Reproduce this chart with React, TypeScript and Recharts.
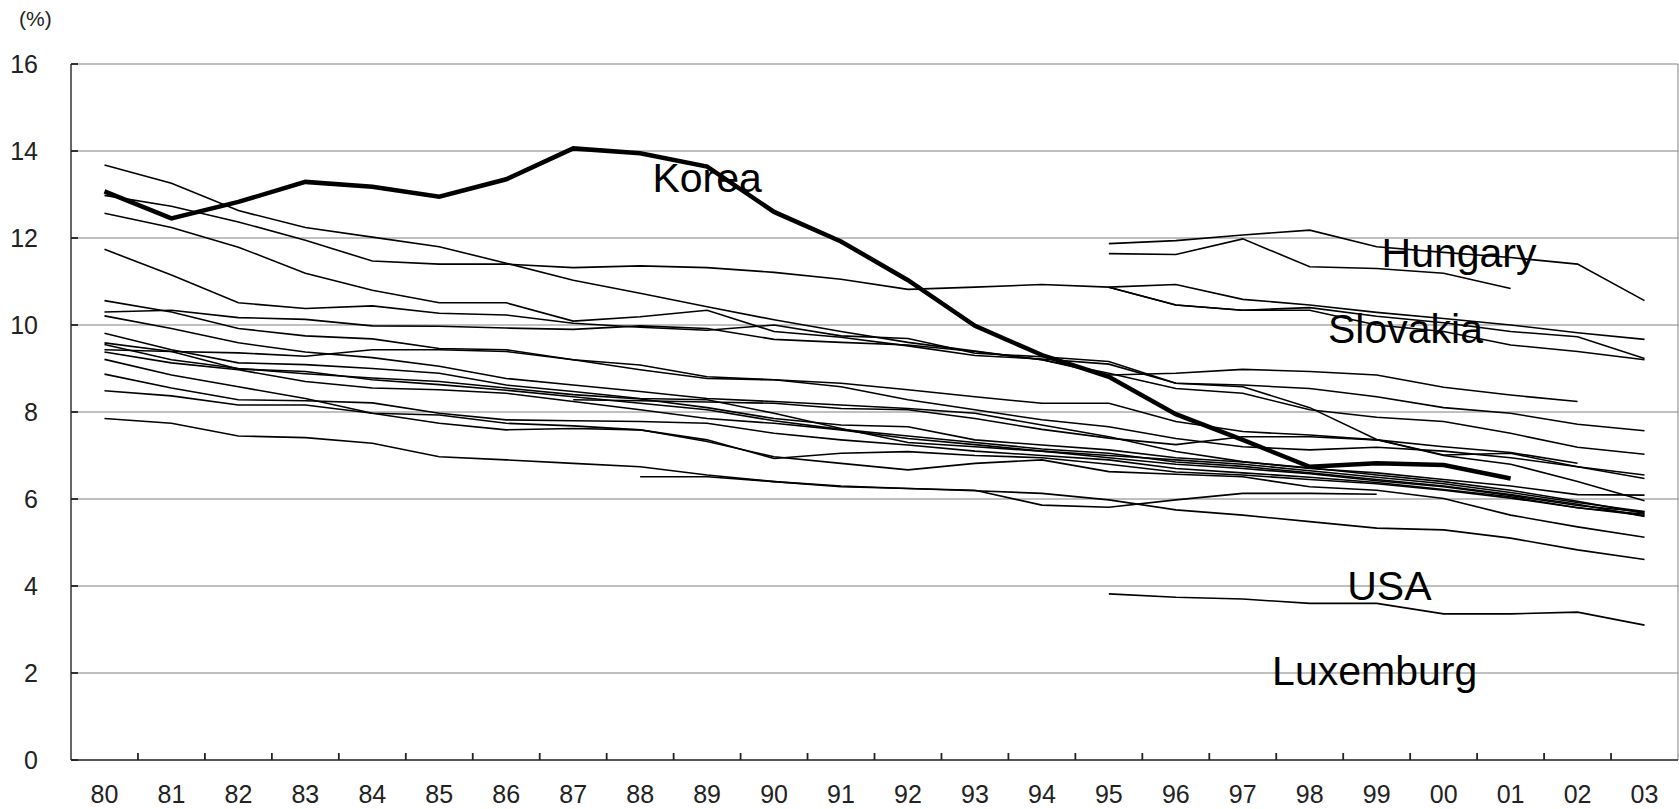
import { CartesianGrid, ComposedChart, Line, ReferenceDot, ReferenceLine, Scatter, XAxis, YAxis } from 'recharts';

const years = ['80', '81', '82', '83', '84', '85', '86', '87', '88', '89', '90', '91', '92', '93', '94', '95', '96', '97', '98', '99', '00', '01', '02', '03'];
const yTicks = [0, 2, 4, 6, 8, 10, 12, 14, 16];

const none = (n: number) => Array(n).fill(null);

// values, one list per country line
const korea = [13.07, 12.45, 12.83, 13.29, 13.18, 12.95, 13.35, 14.06, 13.95, 13.64, 12.6, 11.92, 11.03, 9.98, 9.31, 8.81, 7.95, 7.36, 6.74, 6.82, 6.78, 6.47, null, null];
const lineA = [13.68, 13.26, 12.63, 12.24, 12.02, 11.8, 11.42, 11.03, 10.73, 10.42, 10.12, 9.85, 9.6, 9.4, 9.2, 8.85, 8.89, 8.98, 8.93, 8.85, 8.57, 8.39, 8.24, null];
const lineB = [12.98, 12.73, 12.37, 11.95, 11.47, 11.4, 11.4, 11.32, 11.36, 11.32, 11.21, 11.05, 10.82, 10.87, 10.93, 10.87, 10.93, 10.59, 10.46, 10.29, 10.15, 10.0, 9.82, 9.67];
const lineD = [12.57, 12.24, 11.79, 11.19, 10.8, 10.51, 10.51, 10.09, 10.19, 10.34, 9.85, 9.72, 9.52, 9.3, 9.22, 9.1, 8.66, 8.62, 8.54, 8.35, 8.1, 7.97, 7.72, 7.57];
const lineC = [11.74, 11.15, 10.51, 10.38, 10.44, 10.27, 10.23, 10.04, 9.95, 9.88, 10.0, 9.75, 9.69, 9.35, 9.27, 9.16, 8.66, 8.58, 8.1, 7.37, 7.01, 7.05, 6.74, 6.47];
const line7 = [10.3, 10.34, 10.17, 10.13, 9.98, 9.97, 9.93, 9.9, 9.98, 9.92, 9.67, 9.6, 9.54, 9.39, 9.2, 8.89, 8.54, 8.43, 8.05, 7.88, 7.78, 7.51, 7.19, 7.03];
const line6 = [10.56, 10.3, 9.92, 9.75, 9.68, 9.46, 9.43, 9.2, 9.08, 8.81, 8.74, 8.66, 8.51, 8.35, 8.2, 8.2, 7.78, 7.55, 7.47, 7.36, 7.2, 7.07, 6.82, null];
const line12 = [9.43, 9.39, 9.36, 9.28, 9.43, 9.43, 9.39, 9.2, 8.97, 8.77, 8.74, 8.58, 8.28, 8.05, 7.82, 7.66, 7.39, 7.2, 7.13, 7.19, 7.1, 6.95, 6.74, 6.55];
const line8 = [10.21, 9.92, 9.59, 9.38, 9.25, 9.05, 8.77, 8.62, 8.47, 8.31, 8.24, 8.16, 8.08, 7.97, 7.7, 7.43, 7.09, 6.86, 6.7, 6.6, 6.45, 6.3, 6.1, 6.09];
const line87 = [...none(7), 8.28, 8.26, 8.23, 8.2, 8.08, 8.05, 7.85, 7.6, 7.4, 7.25, 7.43, 7.43, 7.36, 7.0, 6.8, 6.4, 5.96];
const line9 = [9.81, 9.43, 9.13, 9.09, 9.0, 8.89, 8.62, 8.47, 8.31, 8.28, 7.97, 7.62, 7.3, 7.2, 7.1, 7.0, 6.9, 6.8, 6.65, 6.5, 6.35, 6.15, 5.92, 5.71];
const line11 = [9.55, 9.2, 9.0, 8.88, 8.78, 8.7, 8.55, 8.4, 8.3, 8.1, 7.85, 7.7, 7.66, 7.36, 7.24, 7.13, 6.95, 6.85, 6.72, 6.55, 6.4, 6.2, 5.95, 5.67];
const line10 = [9.59, 9.39, 8.99, 8.93, 8.74, 8.63, 8.5, 8.35, 8.2, 8.05, 7.8, 7.6, 7.45, 7.3, 7.15, 7.05, 6.85, 6.75, 6.6, 6.45, 6.3, 6.1, 5.88, 5.6];
const line13 = [9.38, 9.13, 8.97, 8.7, 8.55, 8.51, 8.43, 8.24, 8.05, 7.85, 7.74, 7.59, 7.39, 7.25, 7.1, 6.95, 6.8, 6.7, 6.58, 6.42, 6.28, 6.08, 5.85, 5.7];
const line15 = [8.87, 8.55, 8.28, 8.26, 8.21, 7.97, 7.82, 7.8, 7.78, 7.74, 7.51, 7.36, 7.24, 7.1, 7.0, 6.9, 6.7, 6.6, 6.5, 6.38, 6.22, 6.05, 5.8, 5.65];
const line16 = [8.49, 8.37, 8.16, 8.16, 7.97, 7.93, 7.74, 7.68, 7.59, 7.32, 6.97, 6.82, 6.67, 6.82, 6.9, 6.63, 6.57, 6.51, 6.28, 6.2, 6.01, 5.63, 5.36, 5.12];
const line14 = [9.21, 8.85, 8.58, 8.31, 7.97, 7.74, 7.59, 7.62, 7.59, 7.36, 6.93, 7.05, 7.09, 7.0, 6.95, 6.8, 6.62, 6.55, 6.45, 6.35, 6.2, 6.02, 5.8, 5.62];
const line17 = [7.85, 7.74, 7.45, 7.41, 7.28, 6.97, 6.9, 6.82, 6.74, 6.55, 6.4, 6.28, 6.24, 6.19, 6.13, 5.98, 5.75, 5.63, 5.48, 5.33, 5.29, 5.1, 4.83, 4.61];
const line88 = [...none(8), 6.51, 6.51, 6.4, 6.3, 6.24, 6.2, 5.86, 5.81, 5.98, 6.13, 6.13, 6.11, null, null, null, null];
const hungary1 = [...none(15), 11.87, 11.94, 12.07, 12.18, 11.8, 11.67, 11.55, 11.4, 10.56];
const hungary2 = [...none(15), 11.64, 11.62, 11.98, 11.34, 11.3, 11.19, 10.84, null, null];
const slovak1 = [...none(15), 10.87, 10.46, 10.34, 10.4, 10.2, 10.05, 9.85, 9.73, 9.23];
const slovak2 = [...none(15), 10.87, 10.46, 10.34, 10.34, 10.0, 9.85, 9.54, 9.39, 9.2];
const usa = [...none(15), 3.82, 3.74, 3.7, 3.6, 3.6, 3.36, 3.36, 3.4, 3.1];

const thin: Record<string, (number | null)[]> = {
  lineA, lineB, lineD, lineC, line7, line6, line12, line8, line87, line9, line11,
  line10, line13, line15, line16, line14, line17, line88, hungary1, hungary2, slovak1, slovak2, usa,
};

const data = years.map((_, i) => {
  const row: Record<string, number | null> = { x: i, korea: korea[i] };
  Object.keys(thin).forEach((k) => {
    row[k] = thin[k][i];
  });
  return row;
});

// tick mark anchors: between the years on the x axis, at each grid value on the y axis
const xMarks = years.slice(1).map((_, i) => ({ x: i + 0.5, y: 0 }));
const yMarks = yTicks.map((t) => ({ x: -0.5, y: t }));

const FONT = '"Liberation Sans", Arial, sans-serif';
const names = [
  { text: 'Korea', x: 9.0, y: 13.39 },
  { text: 'Hungary', x: 20.23, y: 11.67 },
  { text: 'Slovakia', x: 19.43, y: 9.93 },
  { text: 'USA', x: 19.19, y: 4.02 },
  { text: 'Luxemburg', x: 18.97, y: 2.05 },
];

const MARK = 7;
const UpMark = (p: any) => <path d={`M${p.cx},${p.cy}V${p.cy - MARK}`} stroke="#222" strokeWidth={1.8} fill="none" />;
const RightMark = (p: any) => <path d={`M${p.cx},${p.cy}H${p.cx + MARK}`} stroke="#222" strokeWidth={1.8} fill="none" />;

export default function App() {
  const idx = years.map((_, i) => i);
  return (
    <div style={{ position: 'fixed', left: 0, top: 0, width: 1679, height: 809, background: '#fff' }}>
      <span style={{ position: 'absolute', left: 19, top: 8, fontSize: 21, lineHeight: 1, fontFamily: FONT, color: '#222' }}>
        (%)
      </span>
      <ComposedChart width={1679} height={809} data={data} margin={{ top: 64, right: 1, left: 0, bottom: 0 }}>
        <CartesianGrid vertical={false} stroke="#808080" strokeWidth={1} />
        <XAxis
          dataKey="x"
          type="number"
          domain={[-0.5, 23.5]}
          ticks={idx}
          interval={0}
          tickFormatter={(v: number) => years[v]}
          height={49}
          tickSize={0}
          tickMargin={25}
          tickLine={false}
          axisLine={{ stroke: '#333', strokeWidth: 1.5 }}
          tick={{ fontSize: 25, fill: '#222', fontFamily: FONT }}
        />
        <YAxis
          dataKey="y"
          domain={[0, 16]}
          ticks={yTicks}
          interval={0}
          width={71}
          tickSize={0}
          tickMargin={33}
          tickLine={false}
          axisLine={{ stroke: '#333', strokeWidth: 1.5 }}
          tick={{ fontSize: 25, fill: '#222', fontFamily: FONT }}
        />
        <ReferenceLine x={23.5} stroke="#808080" strokeWidth={1} />
        {Object.keys(thin).map((k) => (
          <Line
            key={k}
            dataKey={k}
            stroke="#000"
            strokeWidth={1.6}
            dot={false}
            activeDot={false}
            isAnimationActive={false}
          />
        ))}
        <Line
          dataKey="korea"
          stroke="#000"
          strokeWidth={4.5}
          dot={false}
          activeDot={false}
          isAnimationActive={false}
        />
        <Scatter data={xMarks} dataKey="y" shape={UpMark} isAnimationActive={false} />
        <Scatter data={yMarks} dataKey="y" shape={RightMark} isAnimationActive={false} />
        {names.map((n) => (
          <ReferenceDot
            key={n.text}
            x={n.x}
            y={n.y}
            r={0}
            ifOverflow="visible"
            label={{ value: n.text, position: 'center', fontSize: 41, fill: '#000', fontFamily: FONT }}
          />
        ))}
      </ComposedChart>
    </div>
  );
}
